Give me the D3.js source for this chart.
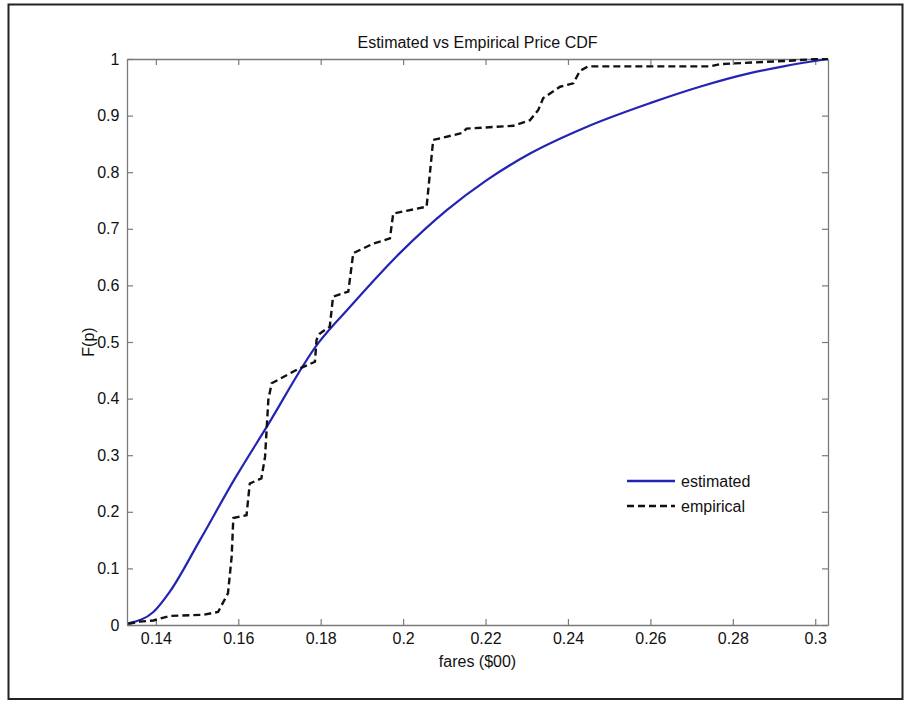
<!DOCTYPE html>
<html lang="en">
<head>
    <meta charset="UTF-8">
    <title>Estimated vs Empirical Price CDF</title>
    <script src="https://d3js.org/d3.v7.min.js"></script>
    <style>
        body { margin: 0; background: #fff; font-family: "Liberation Sans", Arial, sans-serif; }
        svg text { fill: #111; }
    </style>
</head>
<body>
    <svg width="904" height="702"></svg>

    <script>
        // data: [fare, F(p)]
        const estimatedFare = [0.1333, 0.1394, 0.1434, 0.1507, 0.1592, 0.1669, 0.1794, 0.1871, 0.1992, 0.2106, 0.2203, 0.2308, 0.2445, 0.2599, 0.2720, 0.2842, 0.2923, 0.3031];
        const estimatedF    = [0.003, 0.023, 0.059, 0.150, 0.259, 0.350, 0.498, 0.562, 0.657, 0.733, 0.786, 0.833, 0.880, 0.922, 0.951, 0.975, 0.987, 1.0];

        const empiricalFare = [0.1333, 0.1361, 0.1394, 0.1434, 0.1515, 0.1551, 0.1575, 0.1584, 0.1588, 0.1620, 0.1628, 0.1656, 0.1665, 0.1673, 0.1681, 0.1742, 0.1786, 0.1790, 0.1798, 0.1822, 0.1830, 0.1867, 0.1879, 0.1928, 0.1968, 0.1976, 0.2057, 0.2073, 0.2142, 0.2154, 0.2268, 0.2308, 0.2328, 0.2340, 0.2381, 0.2413, 0.2429, 0.2449, 0.2745, 0.2769, 0.2939, 0.3003, 0.3031];
        const empiricalF    = [0.002, 0.006, 0.008, 0.016, 0.018, 0.023, 0.056, 0.121, 0.189, 0.194, 0.250, 0.259, 0.297, 0.398, 0.427, 0.451, 0.465, 0.504, 0.515, 0.527, 0.580, 0.589, 0.657, 0.674, 0.683, 0.727, 0.739, 0.857, 0.869, 0.877, 0.882, 0.892, 0.910, 0.931, 0.951, 0.957, 0.979, 0.987, 0.987, 0.991, 0.997, 1.0, 1.0];

        const xTicks = [0.14, 0.16, 0.18, 0.2, 0.22, 0.24, 0.26, 0.28, 0.3];
        const yTicks = [0, 0.1, 0.2, 0.3, 0.4, 0.5, 0.6, 0.7, 0.8, 0.9, 1];
        const seriesNames = ["estimated", "empirical"];

        const svg = d3.select("svg");

        // outer figure frame
        svg.append("rect")
            .attr("x", 8.5).attr("y", 4.5)
            .attr("width", 894).attr("height", 694.5)
            .attr("fill", "none").attr("stroke", "#222").attr("stroke-width", 2);

        // plot box
        const plotL = 127, plotR = 828, plotT = 59, plotB = 625;

        const x = d3.scaleLinear().domain([0.133, 0.3031]).range([plotL, plotR]);
        const y = d3.scaleLinear().domain([0, 1]).range([plotB, plotT]);

        const fmt = d => d3.format("~g")(d);
        const axisColor = "#7a7a7a";

        // axes with inward ticks on all four sides (matlab box)
        const gx = svg.append("g").attr("transform", `translate(0,${plotB})`)
            .call(d3.axisBottom(x).tickValues(xTicks).tickFormat(fmt).tickSizeInner(-6).tickSizeOuter(0).tickPadding(8));
        const gxTop = svg.append("g").attr("transform", `translate(0,${plotT})`)
            .call(d3.axisTop(x).tickValues(xTicks).tickFormat("").tickSizeInner(-6).tickSizeOuter(0));
        const gy = svg.append("g").attr("transform", `translate(${plotL},0)`)
            .call(d3.axisLeft(y).tickValues(yTicks).tickFormat(fmt).tickSizeInner(-6).tickSizeOuter(0).tickPadding(6));
        const gyRight = svg.append("g").attr("transform", `translate(${plotR},0)`)
            .call(d3.axisRight(y).tickValues(yTicks).tickFormat("").tickSizeInner(-6).tickSizeOuter(0));

        [gx, gxTop, gy, gyRight].forEach(g => {
            g.select(".domain").attr("stroke", axisColor).attr("stroke-width", 1.3);
            g.selectAll(".tick line").attr("stroke", axisColor).attr("stroke-width", 1.2);
            g.selectAll("text").attr("font-size", 16).attr("font-family", "Liberation Sans, Arial, sans-serif").attr("fill", "#111");
        });
        gy.selectAll("text").attr("dx", "-0.1em");

        // clip lines to the plot area
        svg.append("clipPath").attr("id", "clip")
            .append("rect").attr("x", plotL).attr("y", plotT - 1).attr("width", plotR - plotL).attr("height", plotB - plotT + 2);

        const estimated = estimatedFare.map((v, i) => [v, estimatedF[i]]);
        const empirical = empiricalFare.map((v, i) => [v, empiricalF[i]]);

        svg.append("path")
            .datum(estimated)
            .attr("clip-path", "url(#clip)")
            .attr("d", d3.line().x(d => x(d[0])).y(d => y(d[1])).curve(d3.curveMonotoneX))
            .attr("fill", "none").attr("stroke", "#2424b4").attr("stroke-width", 2.2);

        svg.append("path")
            .datum(empirical)
            .attr("clip-path", "url(#clip)")
            .attr("d", d3.line().x(d => x(d[0])).y(d => y(d[1])))
            .attr("fill", "none").attr("stroke", "#111").attr("stroke-width", 2.4)
            .attr("stroke-dasharray", "7,4");

        // title and axis labels
        svg.append("text")
            .attr("x", (plotL + plotR) / 2).attr("y", 48)
            .attr("text-anchor", "middle").attr("font-size", 16)
            .text("Estimated vs Empirical Price CDF");

        svg.append("text")
            .attr("x", (plotL + plotR) / 2).attr("y", 667)
            .attr("text-anchor", "middle").attr("font-size", 16)
            .text("fares ($00)");

        svg.append("text")
            .attr("transform", `translate(94,${(plotT + plotB) / 2}) rotate(-90)`)
            .attr("text-anchor", "middle").attr("font-size", 16)
            .text("F(p)");

        // legend (no box)
        const legend = svg.append("g");
        const legendStyles = [
            { stroke: "#2424b4", dash: null, width: 2.4 },
            { stroke: "#111", dash: "7,4", width: 2.4 }
        ];
        seriesNames.forEach((name, i) => {
            const ly = 481 + i * 25;
            legend.append("line")
                .attr("x1", 627).attr("x2", 675).attr("y1", ly).attr("y2", ly)
                .attr("stroke", legendStyles[i].stroke).attr("stroke-width", legendStyles[i].width)
                .attr("stroke-dasharray", legendStyles[i].dash);
            legend.append("text")
                .attr("x", 681).attr("y", ly).attr("dy", "0.35em")
                .attr("font-size", 16)
                .text(name);
        });
    </script>
</body>
</html>
